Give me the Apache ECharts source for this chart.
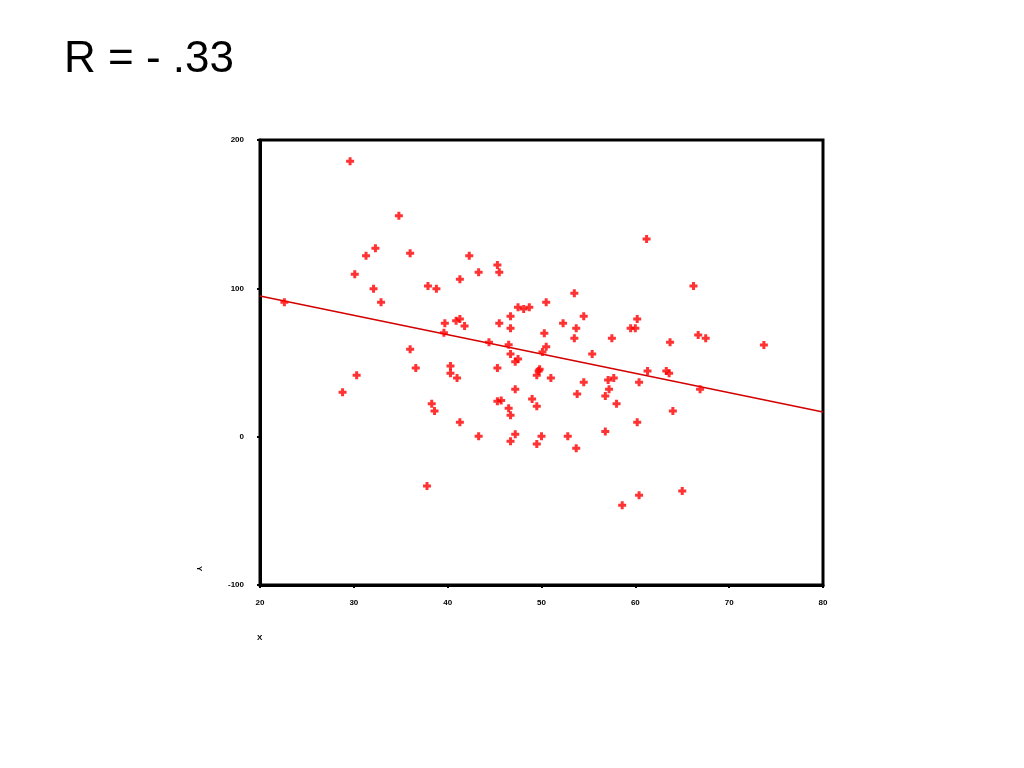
<!DOCTYPE html>
<html>
<head>
<meta charset="utf-8">
<script src="https://cdn.jsdelivr.net/npm/echarts@6/dist/echarts.min.js"></script>
<style>html,body{margin:0;padding:0;background:#fff;}#c{width:1024px;height:768px;}</style>
</head>
<body>
<div id="c"></div>
<script>
const xTicks = [20, 30, 40, 50, 60, 70, 80];
const yTicks = [-100, 0, 100, 200];
const xValues = [29.6,34.8,32.3,31.3,36.0,42.3,45.3,45.5,43.3,41.3,30.1,32.1,37.9,38.8,32.9,22.6,50.5,47.5,48.1,48.7,
  46.7,40.9,41.3,39.7,41.8,45.5,46.7,50.3,39.6,44.4,46.5,36.0,46.7,50.5,50.1,47.5,47.2,36.6,40.3,45.3,
  49.8,61.2,66.2,53.5,54.5,60.2,59.5,60.0,52.3,53.7,53.5,57.5,63.7,66.7,67.5,73.7,55.4,40.3,41.0,30.3,
  28.8,49.7,49.5,51.0,47.2,38.3,38.6,45.7,45.3,46.5,46.7,49.0,49.5,41.3,43.3,47.2,46.7,50.0,49.5,37.8,
  54.5,53.8,57.1,57.7,57.2,56.8,58.0,60.4,61.3,63.3,63.6,66.9,64.0,60.2,56.8,52.8,53.7,65.0,60.4,58.6];
const yValues = [185.6,149.0,127.0,122.0,123.6,122.0,115.7,110.8,110.8,106.1,109.5,99.8,101.6,99.8,90.6,90.6,90.6,87.2,86.1,87.2,
  81.1,78.2,79.3,76.4,74.6,76.4,73.1,69.7,70.1,63.6,62.0,58.9,55.7,60.7,57.1,52.4,50.5,46.3,47.6,46.3,
  45.4,133.3,101.6,96.7,81.1,79.3,73.1,73.1,76.4,73.1,66.3,66.3,63.6,68.5,66.3,61.8,55.7,42.7,39.6,41.4,
  29.9,44.3,41.4,39.6,32.0,22.2,17.3,24.3,23.9,19.1,14.4,25.4,20.5,9.7,0.3,1.6,-3.1,0.3,-4.9,-33.2,
  36.7,28.8,38.2,39.6,32.0,27.4,22.2,36.7,44.3,44.3,42.7,32.0,17.3,9.7,3.4,0.3,-7.8,-36.6,-39.5,-46.3];
const fitX = [20, 80];
const fitY = [94.8, 16.6];

const points = xValues.map((x, i) => [x, yValues[i]]);
const fitLine = fitX.map((x, i) => [x, fitY[i]]);

const chart = echarts.init(document.getElementById('c'), null, {renderer: 'canvas'});
const tickLabel = {color: '#000', fontSize: 8, fontWeight: 'bold', fontFamily: 'Liberation Sans, Arial, sans-serif'};
chart.setOption({
  animation: false,
  backgroundColor: '#fff',
  title: {
    text: 'R = - .33',
    left: 59, top: 33,
    textStyle: {fontFamily: 'Liberation Sans, Arial, sans-serif', fontSize: 44, fontWeight: 'normal', color: '#000'}
  },
  grid: {left: 260, right: 201, top: 140, bottom: 183, show: true, borderColor: '#000', borderWidth: 3, backgroundColor: 'transparent'},
  xAxis: {
    type: 'value', min: 20, max: 80, interval: 10,
    axisLine: {show: true, onZero: false, lineStyle: {color: '#000', width: 3}},
    axisTick: {show: true, length: 3, lineStyle: {color: '#000', width: 2}},
    splitLine: {show: false},
    axisLabel: Object.assign({margin: 14, formatter: v => xTicks.includes(v) ? String(v) : ''}, tickLabel)
  },
  yAxis: {
    type: 'value', min: -100, max: 200, interval: 100,
    axisLine: {show: true, onZero: false, lineStyle: {color: '#000', width: 3}},
    axisTick: {show: true, length: 3, lineStyle: {color: '#000', width: 2}},
    splitLine: {show: false},
    axisLabel: Object.assign({margin: 16, formatter: v => yTicks.includes(v) ? String(v) : ''}, tickLabel)
  },
  graphic: [
    {type: 'text', left: 257, top: 634, style: {text: 'X', fill: '#000', font: 'bold 8px Liberation Sans, Arial, sans-serif'}},
    {type: 'text', x: 203, y: 566, rotation: -Math.PI / 2, style: {text: 'Y', fill: '#000', font: 'bold 8px Liberation Sans, Arial, sans-serif'}}
  ],
  series: [
    {
      type: 'line', data: fitLine, symbol: 'none', silent: true,
      lineStyle: {color: '#d40000', width: 1.6}, z: 2
    },
    {
      type: 'scatter', data: points,
      symbol: 'path://M2.5,0H5.5V2.5H8V5.5H5.5V8H2.5V5.5H0V2.5H2.5Z', symbolSize: 8,
      itemStyle: {color: '#ff0000'}, z: 3
    }
  ]
});
</script>
</body>
</html>
